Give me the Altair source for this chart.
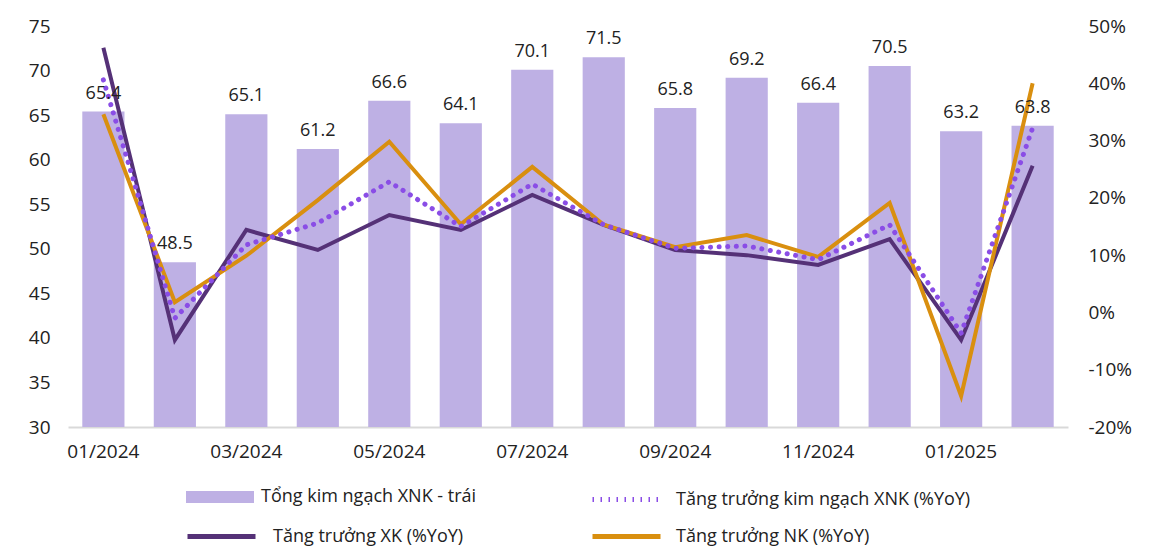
import altair as alt
import pandas as pd

months = ["01/2024", "02/2024", "03/2024", "04/2024", "05/2024", "06/2024", "07/2024",
          "08/2024", "09/2024", "10/2024", "11/2024", "12/2024", "01/2025", "02/2025"]
total = [65.4, 48.5, 65.1, 61.2, 66.6, 64.1, 70.1, 71.5, 65.8, 69.2, 66.4, 70.5, 63.2, 63.8]
xk = [46.2, -4.8, 14.4, 10.9, 17.0, 14.4, 20.5, 15.3, 10.9, 10.0, 8.3, 12.8, -4.8, 25.6]
nk = [34.6, 1.8, 9.9, 19.6, 29.8, 15.4, 25.4, 15.3, 11.4, 13.5, 9.7, 19.1, -14.6, 40.0]
xnk = [40.6, -1.0, 11.8, 15.6, 22.8, 15.0, 22.4, 15.3, 11.2, 11.6, 9.2, 15.3, -3.6, 32.2]
tick_months = ["01/2024", "03/2024", "05/2024", "07/2024", "09/2024", "11/2024", "01/2025"]
left_ticks = [30, 35, 40, 45, 50, 55, 60, 65, 70, 75]
right_ticks = [-20, -10, 0, 10, 20, 30, 40, 50]

LBL_BAR = "Tổng kim ngạch XNK - trái"
LBL_XNK = "Tăng trưởng kim ngạch XNK (%YoY)"
LBL_XK = "Tăng trưởng XK (%YoY)"
LBL_NK = "Tăng trưởng NK (%YoY)"

C_BAR = "#BEB0E4"
C_XK = "#553177"
C_NK = "#D98F0F"
C_XNK = "#8A4DE6"
FONT = "Open Sans"
TXT = "#222222"

df = pd.DataFrame({"month": months, "total": total, "xk": xk, "nk": nk, "xnk": xnk})
base = alt.Chart(df)

x = alt.X("month:N", sort=months,
          scale=alt.Scale(paddingInner=0.41, paddingOuter=0.2),
          axis=alt.Axis(values=tick_months, title=None, labelAngle=0, ticks=False,
                        domainColor="#D9D9D9", domainWidth=2, labelFontSize=19,
                        labelPadding=15, labelColor=TXT))

left_scale = alt.Scale(domain=[30, 75], nice=False, zero=False)
right_scale = alt.Scale(domain=[-20, 50], nice=False, zero=False)


def leg(lx, ly, **kw):
    return alt.Legend(title=None, orient="none", legendX=lx, legendY=ly,
                      labelFontSize=18, labelFont=FONT, labelColor=TXT,
                      labelLimit=0, **kw)


bars = base.transform_calculate(s=f"'{LBL_BAR}'").mark_bar(clip=True).encode(
    x=x,
    y=alt.Y("total:Q", scale=left_scale,
            axis=alt.Axis(values=left_ticks, title=None, grid=False, domain=False,
                          ticks=False, labelFontSize=19, labelPadding=18,
                          orient="left", labelColor=TXT)),
    color=alt.Color("s:N", scale=alt.Scale(domain=[LBL_BAR], range=[C_BAR]),
                    legend=leg(118, 437, symbolType="M-1,-0.18H1V0.18H-1Z",
                               symbolSize=4624, labelOffset=7, symbolStrokeWidth=0,
                               symbolOpacity=1)),
)

def line(field, label, color, lx, ly, dash=None, axis=None, offset=13):
    mk = dict(strokeWidth=4, strokeJoin="miter")
    lg = dict(symbolType="stroke", symbolSize=4624, symbolStrokeWidth=5,
              labelOffset=offset)
    if dash:
        mk.update(strokeDash=dash, strokeCap="round", strokeWidth=5)
        lg.update(symbolDash=[1.5, 6.5])
    else:
        mk.update(strokeCap="butt")
    return base.transform_calculate(s=f"'{label}'").mark_line(**mk).encode(
        x=x,
        y=alt.Y(f"{field}:Q", scale=right_scale, axis=axis),
        color=alt.Color("s:N", scale=alt.Scale(domain=[label], range=[color]),
                        legend=leg(lx, ly, **lg)),
    )

right_axis = alt.Axis(values=right_ticks, title=None, grid=False, domain=False,
                      ticks=False, labelFontSize=19, labelPadding=20, orient="right",
                      labelExpr="datum.value + '%'", labelColor=TXT)

l_xk = line("xk", LBL_XK, C_XK, 117, 474, axis=right_axis, offset=15)
l_nk = line("nk", LBL_NK, C_NK, 522, 474)
l_xnk = line("xnk", LBL_XNK, C_XNK, 522, 437, dash=[0.1, 8.5])

labels = base.mark_text(baseline="bottom", dy=-9, fontSize=18, font=FONT, color=TXT).encode(
    x=x,
    y=alt.Y("total:Q", scale=left_scale, axis=None),
    text=alt.Text("total:Q", format=".1f"),
)

chart = alt.layer(bars, l_xk, l_nk, l_xnk, labels).resolve_scale(
    y="independent", color="independent"
).properties(
    width=1000, height=401,
    autosize=alt.AutoSizeParams(type="none"),
    padding={"left": 60, "top": 18, "right": 84, "bottom": 120},
).configure_view(stroke=None).configure_axis(labelFont=FONT)

chart.save("out.html", embed_options={"renderer": "svg", "actions": False})
